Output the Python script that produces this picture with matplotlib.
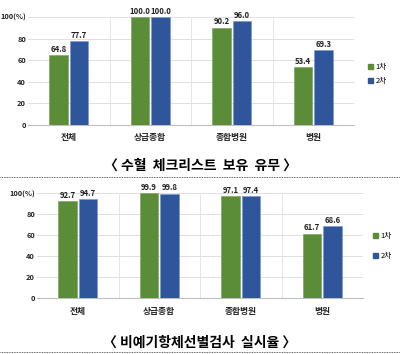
import matplotlib
matplotlib.use("Agg")
import matplotlib.pyplot as plt
from matplotlib.lines import Line2D
import numpy as np

plt.rcParams['font.family'] = ['Noto Sans CJK KR', 'DejaVu Sans']

categories = ['전체', '상급종합', '종합병원', '병원']
series_names = ['1차', '2차']
top_1 = [64.8, 100.0, 90.2, 53.4]
top_2 = [77.7, 100.0, 96.0, 69.3]
bot_1 = [92.7, 99.9, 97.1, 61.7]
bot_2 = [94.7, 99.8, 97.4, 68.6]
yticks = [0, 20, 40, 60, 80, 100]
ytick_labels = ['0', '20', '40', '60', '80', '100(%)']
title_top = '〈 수혈  체크리스트  보유  유무 〉'
title_bot = '〈 비예기항체선별검사  실시율 〉'

GREEN = '#5b8c37'
BLUE = '#2f559a'

W, H = 400, 354
fig = plt.figure(figsize=(W/100, H/100), dpi=100)


def fx(px):
    return px / W


def fy(py):
    return 1 - py / H


def draw(ax, s1, s2):
    x = np.arange(len(categories))
    bw = 0.225
    off = 0.127
    b1 = ax.bar(x - off, s1, bw, color=GREEN, edgecolor='#7fa860', linewidth=0.5, zorder=3)
    b2 = ax.bar(x + off, s2, bw, color=BLUE, edgecolor='#7a98d6', linewidth=0.5, zorder=3)
    for bars, vals in ((b1, s1), (b2, s2)):
        for r, v in zip(bars, vals):
            ax.annotate(f'{v:.1f}', (r.get_x() + r.get_width()/2, v),
                        xytext=(0, 0.8), textcoords='offset points',
                        ha='center', va='bottom', fontsize=5.6, fontweight='bold',
                        color='#222222', annotation_clip=False, clip_on=False)
    ax.set_xlim(-0.5, len(categories) - 0.5)
    ax.set_ylim(0, 100)
    ax.set_yticks(yticks)
    ax.set_yticklabels(ytick_labels, fontsize=5.3, fontweight='bold', color='#222222')
    ax.set_xticks(x)
    ax.set_xticklabels(categories, fontsize=6.3, fontweight='bold', color='#222222')
    ax.tick_params(axis='both', length=0)
    ax.tick_params(axis='x', pad=6)
    ax.tick_params(axis='y', pad=1.5)
    for s in ['top', 'right', 'left']:
        ax.spines[s].set_visible(False)
    ax.spines['bottom'].set_color('#bfbfbf')
    ax.spines['bottom'].set_linewidth(0.8)
    for yv in yticks[1:]:
        ax.axhline(yv, color='#e0e0e0', lw=0.7, zorder=0)
    for xv in x[:-1] + 0.5:
        ax.axvline(xv, color='#e6e6e6', lw=0.7, zorder=0)


ax1 = fig.add_axes([fx(28), fy(125), fx(326), 108/H])
draw(ax1, top_1, top_2)
ax2 = fig.add_axes([fx(37), fy(298.3), fx(326), 105/H])
draw(ax2, bot_1, bot_2)

handles = [plt.Rectangle((0, 0), 1, 1, color=GREEN), plt.Rectangle((0, 0), 1, 1, color=BLUE)]
fig.legend(handles, series_names, loc='center left', bbox_to_anchor=(fx(364), fy(74)),
           frameon=False, fontsize=5.5, handlelength=0.7, handleheight=0.7,
           handletextpad=0.3, labelspacing=0.8, borderpad=0)
fig.legend(handles, series_names, loc='center left', bbox_to_anchor=(fx(369), fy(246)),
           frameon=False, fontsize=5.5, handlelength=0.7, handleheight=0.7,
           handletextpad=0.3, labelspacing=1.6, borderpad=0)

fig.text(0.5, fy(166), title_top, ha='center', va='center', fontsize=10, fontweight='bold')
fig.text(0.5, fy(343), title_bot, ha='center', va='center', fontsize=10, fontweight='bold')

for yy in (177, 352):
    fig.add_artist(Line2D([0, 1], [fy(yy), fy(yy)], transform=fig.transFigure,
                          color='#333333', lw=0.6, linestyle=(0, (1, 1))))

fig.savefig('out.png', dpi=100)
